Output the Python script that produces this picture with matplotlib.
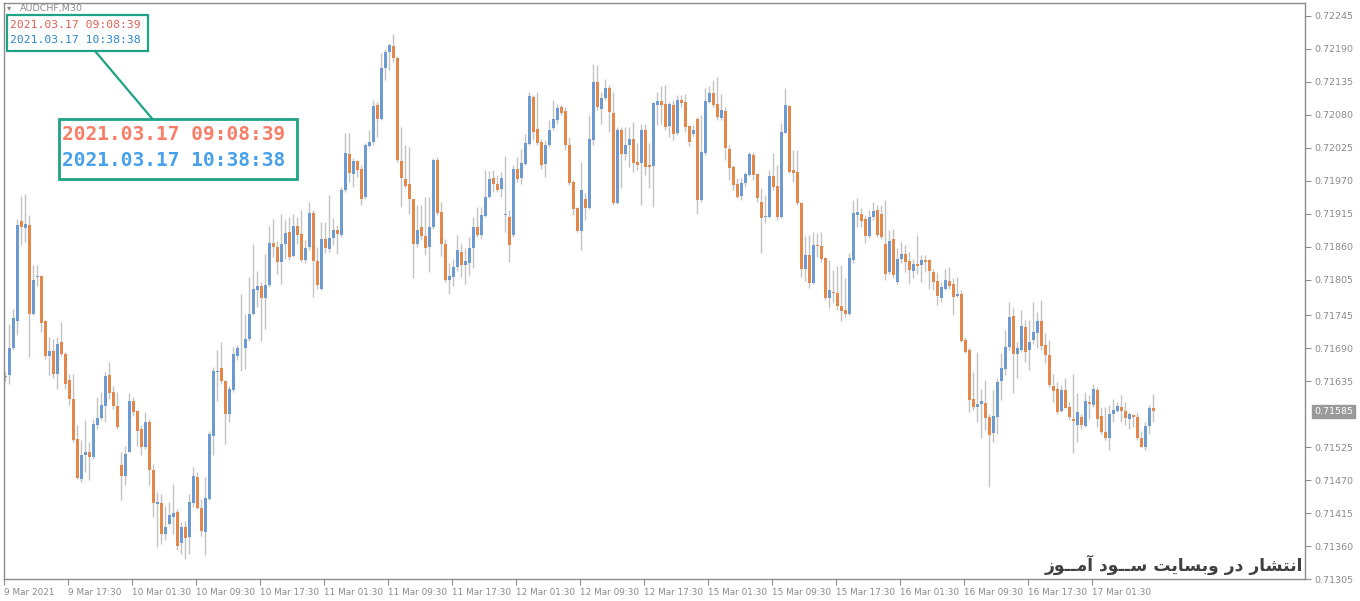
import matplotlib
matplotlib.use("Agg")
import matplotlib.pyplot as plt
from matplotlib.patches import Rectangle
import numpy as np

# ---------------- data (AUDCHF M30, prices in points = price * 1e5) ----------------
OPEN = [71642,71645,71690,71735,71902,71891,71896,71748,71809,71811,71735,71677,71685,71648,71700,71680,
        71637,71606,71539,71472,71513,71517,71509,71563,71574,71594,71645,71617,71594,71496,71477,71518,
        71603,71585,71556,71526,71567,71488,71430,71432,71380,71398,71409,71418,71365,71392,71375,71432,
        71476,71424,71384,71439,71544,71651,71657,71635,71581,71621,71678,71691,71691,71706,71748,71788,
        71795,71774,71796,71866,71860,71834,71865,71885,71845,71894,71881,71838,71860,71916,71836,71790,
        71872,71856,71874,71887,71879,71954,72015,71981,72003,71989,71942,72028,72034,72096,72072,72157,
        72184,72195,72174,72003,71972,71964,71939,71865,71892,71877,71860,71893,72005,71917,71864,71804,
        71809,71826,71851,71830,71833,71857,71893,71880,71911,71943,71974,71964,71956,71913,71909,71879,
        71989,71974,71998,72031,72109,72056,72034,71998,72029,72057,72071,72093,72086,72030,71968,71924,
        71886,71939,71925,72038,72134,72090,72108,72124,72082,71933,72054,72014,72029,72040,72001,71999,
        72054,71996,71994,72096,72103,72098,72061,72096,72049,72104,72101,72061,72048,72072,71937,72016,
        72101,72116,72098,72075,72086,72022,71992,71965,71945,71966,71980,72013,71981,71935,71909,71910,
        71978,71961,71909,72050,72095,71988,71985,71932,71822,71846,71800,71862,71861,71841,71775,71784,
        71782,71761,71754,71748,71838,71913,71914,71906,71878,71909,71921,71914,71864,71818,71872,71801,
        71839,71847,71836,71819,71831,71829,71838,71837,71818,71802,71775,71790,71803,71797,71778,71781,
        71704,71687,71605,71593,71598,71599,71575,71549,71576,71636,71655,71692,71744,71680,71688,71725,
        71687,71704,71716,71735,71695,71679,71627,71623,71586,71621,71592,71573,71562,71576,71560,71600,
        71595,71621,71577,71551,71541,71580,71586,71592,71586,71573,71579,71576,71540,71526,71560,71591]
HIGH = [71650,71731,71756,71906,71945,71948,71912,71829,71830,71813,71737,71709,71705,71709,71734,71684,
        71648,71648,71562,71537,71570,71534,71573,71609,71617,71651,71667,71628,71617,71517,71528,71615,
        71609,71587,71562,71584,71573,71498,71451,71448,71428,71434,71464,71423,71400,71403,71448,71492,
        71484,71439,71475,71553,71659,71687,71701,71637,71628,71692,71695,71781,71748,71809,71865,71820,
        71801,71848,71895,71906,71870,71915,71904,71909,71915,71910,71921,71871,71935,71921,71860,71901,
        71901,71946,71907,71896,71960,72049,72049,72007,72004,71996,72032,72054,72104,72101,72182,72190,
        72199,72214,72177,72060,72029,72026,71940,71929,71929,71943,71943,72007,72010,71934,71873,71832,
        71840,71879,71865,71857,71876,71909,71926,71926,71987,71986,71987,71980,71984,72011,71921,71996,
        72009,72023,72048,72118,72112,72118,72040,72037,72071,72104,72098,72096,72093,72043,71971,71926,
        72001,71949,72079,72165,72163,72118,72140,72129,72118,72060,72060,72060,72060,72068,72032,72065,
        72065,72032,72101,72118,72127,72129,72101,72104,72113,72113,72115,72063,72063,72076,72079,72124,
        72127,72138,72143,72115,72093,72030,71996,71974,71974,71985,72017,72018,71982,71957,71946,71988,
        72016,71996,72066,72124,72096,72021,72021,71935,71877,71879,71885,71882,71885,71843,71838,71821,
        71827,71829,71807,71849,71938,71941,71924,71913,71921,71935,71929,71929,71937,71887,71890,71857,
        71868,71862,71851,71840,71879,71846,71846,71840,71823,71818,71801,71823,71826,71807,71809,71787,
        71709,71690,71651,71684,71623,71637,71581,71620,71640,71682,71720,71768,71757,71701,71754,71737,
        71737,71768,71751,71770,71715,71704,71648,71634,71629,71640,71601,71648,71615,71581,71617,71612,
        71631,71626,71592,71592,71595,71606,71601,71612,71601,71584,71581,71584,71553,71567,71595,71614]
LOW = [71635,71631,71687,71712,71862,71867,71676,71745,71795,71717,71673,71645,71640,71623,71678,71623,
       71595,71534,71473,71467,71484,71470,71506,71556,71570,71567,71606,71589,71556,71437,71462,71517,
       71578,71528,71512,71523,71462,71409,71359,71364,71370,71395,71381,71354,71348,71339,71348,71426,
       71423,71378,71345,71437,71512,71603,71631,71531,71567,71617,71670,71653,71656,71703,71745,71759,
       71703,71723,71792,71842,71815,71798,71840,71837,71842,71865,71835,71832,71854,71776,71790,71787,
       71850,71851,71862,71848,71876,71951,71968,71960,71976,71929,71940,72026,72029,72043,72071,72138,
       72154,72168,72001,71926,71957,71915,71807,71860,71871,71846,71818,71890,71912,71845,71801,71781,
       71795,71820,71809,71798,71812,71824,71876,71874,71909,71941,71951,71951,71943,71884,71834,71876,
       71968,71965,71996,72029,72037,72029,71990,71976,72026,72054,72065,72079,72021,71962,71912,71884,
       71854,71904,71922,72029,72088,72065,72104,72051,71929,71931,71957,72004,71993,71985,71988,71929,
       71979,71957,71926,72063,72065,72054,72043,72038,72046,72093,72051,72028,72044,71915,71935,72013,
       72099,72093,72071,72071,72004,71971,71955,71941,71938,71960,71977,71971,71935,71849,71899,71907,
       71955,71904,71907,72049,71982,71968,71930,71810,71802,71791,71798,71843,71835,71771,71757,71765,
       71754,71735,71743,71746,71832,71893,71893,71866,71874,71904,71876,71873,71804,71815,71807,71798,
       71832,71818,71798,71807,71815,71801,71818,71790,71787,71762,71768,71787,71790,71746,71776,71701,
       71682,71584,71587,71568,71540,71554,71459,71534,71548,71604,71645,71687,71615,71640,71684,71667,
       71654,71698,71690,71687,71665,71626,71601,71581,71584,71590,71570,71515,71534,71556,71559,71573,
       71592,71559,71548,71537,71520,71567,71584,71567,71562,71556,71559,71537,71525,71520,71548,71567]
CLOSE = [71642,71690,71740,71896,71892,71898,71748,71805,71810,71733,71678,71685,71648,71698,71681,71630,
         71606,71538,71474,71513,71518,71509,71564,71574,71595,71644,71616,71594,71559,71477,71514,71603,
         71584,71553,71526,71568,71487,71432,71434,71381,71393,71413,71415,71360,71392,71374,71434,71477,
         71424,71385,71440,71547,71652,71653,71635,71581,71623,71681,71691,71690,71706,71748,71790,71795,
         71774,71796,71866,71859,71834,71865,71883,71842,71894,71879,71837,71857,71916,71836,71796,71872,
         71857,71875,71887,71881,71954,72016,71982,72003,71987,71940,72029,72035,72094,72072,72158,72184,
         72196,72174,72004,71975,71961,71940,71865,71887,71877,71858,71892,72004,71916,71864,71805,71811,
         71826,71854,71830,71836,71858,71893,71880,71912,71943,71973,71964,71954,71975,71914,71862,71989,
         71972,72000,72033,72111,72051,72033,71996,72029,72055,72072,72091,72083,72029,71966,71922,71886,
         71954,71924,72039,72134,72092,72107,72124,72084,71933,72055,72015,72029,72039,71999,71996,72055,
         71993,71993,72099,72103,72096,72060,72098,72048,72104,72100,72060,72035,72055,71937,72018,72103,
         72116,72096,72076,72088,72024,71991,71963,71943,71966,71981,72015,71980,71941,71907,71911,71978,
         71959,71909,72051,72096,71985,71983,71932,71822,71846,71799,71862,71861,71839,71774,71787,71783,
         71760,71753,71748,71841,71916,71917,71902,71878,71910,71920,71880,71876,71815,71869,71812,71840,
         71847,71834,71821,71831,71827,71837,71834,71819,71801,71777,71793,71804,71794,71776,71781,71702,
         71684,71604,71593,71598,71603,71574,71545,71577,71634,71657,71693,71743,71680,71690,71727,71684,
         71701,71718,71735,71694,71679,71629,71619,71584,71621,71591,71576,71569,71584,71562,71602,71597,
         71623,71573,71551,71541,71580,71587,71594,71586,71574,71580,71575,71540,71526,71560,71591,71585]

Y_TICKS = [0.72245, 0.72190, 0.72135, 0.72080, 0.72025, 0.71970, 0.71915, 0.71860, 0.71805,
           0.71745, 0.71690, 0.71635, 0.71525, 0.71470, 0.71415, 0.71360, 0.71305]
X_LABELS = ["9 Mar 2021", "9 Mar 17:30", "10 Mar 01:30", "10 Mar 09:30", "10 Mar 17:30",
            "11 Mar 01:30", "11 Mar 09:30", "11 Mar 17:30", "12 Mar 01:30", "12 Mar 09:30",
            "12 Mar 17:30", "15 Mar 01:30", "15 Mar 09:30", "15 Mar 17:30", "16 Mar 01:30",
            "16 Mar 09:30", "16 Mar 17:30", "17 Mar 01:30"]
BARS_PER_LABEL = 16
LAST_PRICE = 0.71585
SYMBOL = "AUDCHF,M30"
TIME_1 = "2021.03.17 09:08:39"
TIME_2 = "2021.03.17 10:38:38"
# Persian watermark "انتشار در وبسایت ســود آمــوز" written with Arabic presentation forms
# (logical order), reversed for left-to-right rendering.
WATERMARK = ("\uFE8D\uFEE7\uFE98\uFEB8\uFE8E\uFEAD \uFEA9\uFEAD "
             "\uFEED\uFE91\uFEB4\uFE8E\uFEF3\uFE96 \uFEB3\u0640\u0640\uFEEE\uFEA9 "
             "\uFE81\uFEE3\u0640\u0640\uFEEE\uFEAF")[::-1]

# ---------------- style ----------------
UP = "#6b9bd2"
DOWN = "#e3874a"
WICK = "#c2c2c2"
FRAME = "#8c8c8c"
LABEL = "#8a8a8a"
TEAL = "#1ea386"

W, H = 1360, 601
fig = plt.figure(figsize=(W / 100, H / 100), dpi=100)
fig.patch.set_facecolor("white")

left, right, top, bottom = 4, 1305, 3, 579.3
ax = fig.add_axes([left / W, 1 - bottom / H, (right - left) / W, (bottom - top) / H])

o = np.array(OPEN) / 1e5
h = np.array(HIGH) / 1e5
l = np.array(LOW) / 1e5
c = np.array(CLOSE) / 1e5
x = np.arange(len(o))

ax.vlines(x, l, h, color=WICK, linewidth=1.0, zorder=1)
up = c >= o
body_lo = np.minimum(o, c)
body_h = np.maximum(np.abs(c - o), 0.000016)
ax.bar(x[up], body_h[up], bottom=body_lo[up], width=0.75, color=UP, linewidth=0, zorder=2)
ax.bar(x[~up], body_h[~up], bottom=body_lo[~up], width=0.75, color=DOWN, linewidth=0, zorder=2)

ppx = (0.72245 - 0.71305) / (579.3 - 15.7)
ax.set_ylim(0.71305, 0.72245 + (15.7 - top) * ppx)
ax.set_xlim(-0.25, (right - 5) / 4)

for s in ax.spines.values():
    s.set_color(FRAME)
    s.set_linewidth(1.0)

ax.yaxis.tick_right()
ax.set_yticks(Y_TICKS)
ax.set_yticklabels([f"{v:.5f}" for v in Y_TICKS])
ax.tick_params(axis="y", direction="out", length=4, width=0.8, colors=FRAME,
               labelcolor=LABEL, labelsize=6.8, pad=3)
xt = np.arange(len(X_LABELS)) * BARS_PER_LABEL - 0.25
ax.set_xticks(xt)
ax.set_xticklabels(X_LABELS, ha="left")
ax.tick_params(axis="x", direction="out", length=4, width=0.8, colors=FRAME,
               labelcolor=LABEL, labelsize=6.4, pad=2)

# last price tag
ax.annotate(f"{LAST_PRICE:.5f}", xy=(1.0, LAST_PRICE), xycoords=("axes fraction", "data"),
            xytext=(6.5, 0), textcoords="offset points", va="center", ha="left",
            fontsize=6.8, color="white",
            bbox=dict(boxstyle="square,pad=0.25", fc="#9a9a9a", ec="#9a9a9a"),
            annotation_clip=False)

# ---------------- overlay in pixel coordinates ----------------
ov = fig.add_axes([0, 0, 1, 1], facecolor="none")
ov.set_xlim(0, W)
ov.set_ylim(H, 0)
ov.axis("off")

ov.text(7, 8, "\u25BE", fontsize=6, color=LABEL, va="center", ha="left")
ov.text(20, 8, SYMBOL, fontsize=6.8, color=LABEL, va="center", ha="left")

ov.add_patch(Rectangle((6.5, 14.5), 141.5, 36, fill=True, fc="white", ec=TEAL, lw=1.6, zorder=3))
ov.text(10, 25, TIME_1, family="DejaVu Sans Mono", fontsize=8.2, color="#e25f55",
        va="center", ha="left", zorder=4)
ov.text(10, 40, TIME_2, family="DejaVu Sans Mono", fontsize=8.2, color="#2b86cc",
        va="center", ha="left", zorder=4)
ov.plot([95, 152], [51, 118.5], color=TEAL, lw=1.6, zorder=3)
ov.add_patch(Rectangle((58.5, 118.5), 238, 60, fill=True, fc="white", ec=TEAL, lw=2.0, zorder=3))
ov.text(62, 135, TIME_1, family="DejaVu Sans Mono", fontsize=14, fontweight="bold",
        color="#f77d67", va="center", ha="left", zorder=4)
ov.text(62, 160, TIME_2, family="DejaVu Sans Mono", fontsize=14, fontweight="bold",
        color="#47a0ec", va="center", ha="left", zorder=4)

ov.text(1303, 565, WATERMARK, family="DejaVu Sans", fontsize=12.3, fontweight="bold",
        color="#404040", va="center", ha="right")

fig.savefig("out.png", dpi=100, facecolor="white")
